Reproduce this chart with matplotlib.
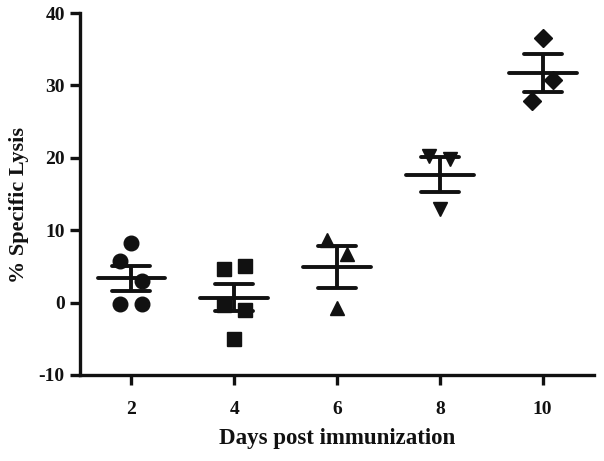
import numpy as np
import matplotlib.pyplot as plt

# ==========================================
# DATA
# ==========================================
days = [2, 4, 6, 8, 10]
day_labels = ['2', '4', '6', '8', '10']

lysis_d2 = [8.3, 5.8, 3.0, -0.2, -0.2]
lysis_d4 = [4.65, 5.1, -0.4, -1.0, -5.0]
lysis_d6 = [8.7, 6.7, -0.7]
lysis_d8 = [20.3, 19.8, 12.9]
lysis_d10 = [36.6, 30.8, 27.8]

y_ticks = [-10, 0, 10, 20, 30, 40]

# ==========================================
# STYLE
# ==========================================
markers = ['o', 's', '^', 'v', 'D']
marker_sizes = [10.5, 10, 9.5, 9.5, 9]
# horizontal scatter of overlapping points (dot-plot layout)
jitter = [
    [0, -0.22, 0.2, -0.22, 0.2],
    [-0.2, 0.2, -0.2, 0.2, 0],
    [-0.2, 0.2, 0],
    [-0.21, 0.2, 0],
    [0, 0.2, -0.2],
]
ink = '#111111'

plt.rcParams['font.family'] = ['Liberation Serif', 'DejaVu Serif']
plt.rcParams['font.weight'] = 'bold'
plt.rcParams['axes.unicode_minus'] = False

fig = plt.figure(figsize=(6.04, 4.61), dpi=100)
ax = fig.add_axes([0.1325, 0.1866, 0.851, 0.785])

groups = [lysis_d2, lysis_d4, lysis_d6, lysis_d8, lysis_d10]
for day, vals, mk, ms, jit in zip(days, groups, markers, marker_sizes, jitter):
    vals = np.array(vals)
    xs = day + np.array(jit)
    ax.plot(xs, vals, linestyle='none', marker=mk, markersize=ms,
            color=ink, zorder=2)

    mean = vals.mean()
    sem = vals.std(ddof=1) / np.sqrt(len(vals))
    # mean bar
    ax.hlines(mean, day - 0.66, day + 0.66, color=ink, linewidth=2.8,
              zorder=3, capstyle='round')
    # SEM whisker with caps
    ax.vlines(day, mean - sem, mean + sem, color=ink, linewidth=2.8, zorder=3)
    ax.hlines([mean - sem, mean + sem], day - 0.37, day + 0.37, color=ink,
              linewidth=2.8, zorder=3, capstyle='round')

ax.set_xlim(1, 11)
ax.set_ylim(-10, 40)
ax.set_xticks(days)
ax.set_xticklabels(day_labels)
ax.set_yticks(y_ticks)

for side in ['top', 'right']:
    ax.spines[side].set_visible(False)
for side in ['left', 'bottom']:
    ax.spines[side].set_linewidth(2.4)
    ax.spines[side].set_color(ink)

ax.tick_params(axis='both', direction='out', length=7, width=2.4,
               color=ink, labelsize=14, labelcolor=ink)
ax.tick_params(axis='x', pad=12)
ax.tick_params(axis='y', pad=4)

ax.set_xlabel('Days post immunization', fontsize=16.5, fontweight='bold',
              color=ink, labelpad=7)
ax.set_ylabel('% Specific Lysis', fontsize=16, fontweight='bold',
              color=ink)
ax.yaxis.set_label_coords(-0.1, 0.47)

fig.savefig('out.png', dpi=100)
